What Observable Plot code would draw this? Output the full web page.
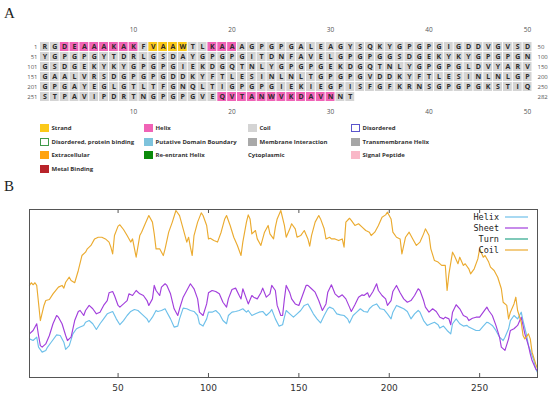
<!DOCTYPE html>
<html><head><meta charset="utf-8">
<script src="https://cdn.jsdelivr.net/npm/d3@7"></script>
<script src="https://cdn.jsdelivr.net/npm/@observablehq/plot@0.6"></script>
<style>
body{margin:0;background:#fff;}
#wrap{position:relative;width:550px;height:395px;overflow:hidden;font-family:"Open Sans",sans-serif;}
.pl{position:absolute;font-family:"Liberation Serif",serif;font-size:15px;color:#222;line-height:15px;}
.leg{position:absolute;font-size:6px;font-weight:bold;color:#333;white-space:nowrap;line-height:8px;}
.sw{position:absolute;width:8.5px;height:8px;box-sizing:border-box;}
.layer{position:absolute;left:0;}
</style></head>
<body><div id="wrap"></div>
<script>
// ---------- Panel A data ----------
const rowStarts = [1, 51, 101, 151, 201, 251];
const seqRows = [
  "RGDEAAAKAKFVAAWTLKAAAGPGPGALEAGYSQKYGPGPGIGDDVGVSD",
  "YGPGPGYTDRLGSDAYGPGPGITDNFAVELGPGPGGSDGEKYKYGPGPGN",
  "GSDGEKYKYGPGPGIEKDGQTNLYGPGPGEKDGQTNLYGPGPGLDVYARV",
  "GAALVRSDGPGPGDDKYFTLESINLNLTGPGPGVDDKYFTLESINLNLGP",
  "GPGAYEGLGTLTFGNQLTIGPGPGIEKIEGPISFGFKRNSGPGPGKSTIQ",
  "STPAVIPDRTNGPGPGVEQVTANWVKDAVNNT"
];
const seqLength = 282;
const helixRanges = [[3, 10], [18, 20], [269, 280]];
const strandRanges = [[12, 15]];
const rulerTicks = [10, 20, 30, 40, 50];
const featureNames = ["Coil", "Helix", "Strand"];
const featureColors = ["#d4d4d4", "#f063b6", "#fbc91a"];

const legendNames = ["Strand", "Helix", "Coil", "Disordered",
  "Disordered, protein binding", "Putative Domain Boundary", "Membrane Interaction", "Transmembrane Helix",
  "Extracellular", "Re-entrant Helix", "Cytoplasmic", "Signal Peptide",
  "Metal Binding"];
const legendFills = ["#fbc91a", "#f063b6", "#d4d4d4", "#ffffff",
  "#ffffff", "#7ec3dc", "#a9a9a9", "#a6a6a6",
  "#ffa30f", "#0a8a0a", null, "#f9b8c8",
  "#b8232a"];
const legendBorders = [null, null, null, "#5b55cc",
  "#3f9a4a", null, null, null,
  null, null, null, null,
  null];

// ---------- Panel B data (residue, score) ----------
const xTicks = [50, 100, 150, 200, 250];
const seriesNames = ["Helix", "Sheet", "Turn", "Coil"];
const seriesColors = ["#6ec0ea", "#a23fdc", "#2aa58a", "#ebab30"];

const helixPts = [[1,23.0],[3,22.0],[5,24.0],[6,18.1],[8,15.1],[10,16.1],[11,18.1],[13,21.0],[16,25.4],[18,25.0],[20,21.0],[21,16.7],[23,19.0],[25,26.0],[27,29.0],[29,30.0],[31,31.0],[32,32.9],[34,33.9],[36,32.0],[38,28.6],[40,32.0],[42,34.9],[44,37.9],[47,39.3],[49,34.9],[51,31.4],[53,33.9],[55,36.9],[57,39.3],[59,40.5],[61,39.9],[63,37.9],[66,34.9],[67,32.9],[69,35.9],[71,39.9],[72,39.3],[74,39.9],[76,40.9],[77,38.9],[79,34.9],[81,30.0],[83,30.6],[84,34.9],[86,41.3],[88,40.9],[90,39.9],[92,39.3],[94,36.9],[95,32.0],[97,30.6],[99,34.9],[100,38.9],[102,38.9],[104,39.9],[106,37.9],[108,33.9],[110,32.0],[111,36.9],[113,38.9],[115,39.3],[117,39.9],[119,40.9],[121,38.9],[122,39.9],[124,36.9],[126,37.9],[128,38.9],[130,39.3],[132,36.9],[134,38.9],[135,40.5],[137,34.9],[139,30.6],[141,31.4],[142,35.9],[143,39.9],[145,37.9],[147,35.9],[149,37.9],[151,39.9],[153,42.9],[155,43.8],[156,41.9],[158,37.9],[160,34.9],[162,32.5],[164,36.9],[166,40.9],[167,41.9],[169,40.9],[171,37.9],[173,37.3],[175,36.9],[177,34.9],[178,32.5],[180,36.9],[182,38.9],[184,40.9],[186,39.3],[188,38.9],[189,40.9],[191,42.9],[193,43.8],[195,40.9],[197,40.5],[199,37.9],[201,34.9],[202,38.9],[204,42.9],[206,41.9],[208,40.9],[210,39.3],[212,34.9],[214,37.9],[216,39.9],[217,38.9],[219,33.9],[221,31.0],[223,32.0],[225,32.9],[227,31.4],[228,29.4],[230,30.6],[232,28.0],[234,26.0],[235,32.0],[237,34.9],[239,32.0],[241,30.6],[243,31.0],[244,30.0],[246,29.0],[248,28.0],[250,28.0],[252,30.6],[254,32.9],[255,32.5],[257,31.0],[259,28.0],[261,24.0],[263,22.0],[264,24.0],[266,29.0],[267,33.9],[269,36.9],[271,34.9],[273,38.9],[274,33.9],[276,25.0],[277,19.0],[278,16.1],[280,10.1],[281,5.2],[282,3.0]];

const sheetPts = [[1,26.0],[3,28.0],[5,32.0],[6,25.0],[7,19.0],[8,18.1],[10,20.0],[12,25.0],[14,32.0],[16,36.9],[17,35.9],[19,32.0],[21,25.0],[22,22.0],[24,24.0],[26,33.9],[28,39.3],[29,39.9],[31,36.9],[32,39.9],[34,42.9],[36,40.9],[38,37.9],[40,38.9],[42,42.9],[44,45.8],[45,50.4],[47,51.2],[48,48.8],[50,42.9],[51,41.9],[53,43.8],[55,45.8],[56,49.8],[58,48.8],[60,51.8],[62,49.8],[64,48.8],[66,45.8],[67,42.9],[69,46.8],[70,54.8],[71,51.8],[73,48.8],[74,53.8],[76,55.8],[77,54.8],[79,49.8],[81,40.9],[83,36.9],[84,40.9],[86,47.8],[88,51.8],[90,55.8],[92,52.8],[94,46.8],[95,38.9],[97,36.9],[99,43.8],[100,50.4],[102,51.8],[104,51.2],[106,49.8],[108,44.8],[110,41.9],[111,46.8],[113,52.4],[115,53.2],[117,48.8],[118,46.8],[119,52.8],[121,46.8],[122,43.8],[124,48.8],[125,47.8],[127,46.8],[129,50.4],[130,53.2],[132,47.8],[134,49.8],[135,54.8],[137,51.8],[138,42.9],[140,36.9],[141,36.9],[142,46.8],[143,54.8],[145,50.4],[146,46.8],[148,43.8],[150,42.9],[152,48.8],[154,54.8],[155,54.8],[157,52.8],[159,50.8],[161,45.8],[163,39.9],[165,43.8],[166,50.8],[168,55.2],[170,49.8],[172,47.8],[174,49.2],[176,46.8],[178,41.9],[179,39.3],[181,43.3],[183,47.8],[185,49.2],[186,48.8],[188,50.4],[189,47.8],[191,51.2],[193,55.8],[194,51.8],[196,48.8],[198,46.8],[199,42.9],[201,45.8],[202,51.2],[204,54.8],[206,50.4],[208,46.8],[210,44.8],[212,45.8],[214,48.8],[216,52.8],[217,51.8],[219,45.8],[220,41.9],[222,38.9],[224,40.9],[226,39.3],[228,35.9],[230,34.9],[231,35.9],[233,34.9],[234,31.4],[235,38.9],[237,43.3],[239,40.9],[241,36.9],[243,35.9],[244,33.9],[246,35.3],[248,35.9],[250,35.9],[252,38.9],[254,41.9],[255,39.9],[257,36.9],[259,31.0],[261,24.0],[262,18.1],[264,16.1],[266,23.0],[267,28.0],[269,29.0],[271,31.0],[273,35.9],[274,31.0],[275,26.0],[277,19.0],[278,14.1],[279,10.1],[281,5.2],[282,4.0]];

const coilPts = [[1,54.8],[2,56.4],[3,55.2],[4,56.4],[5,54.8],[7,33.9],[9,42.9],[10,45.8],[12,46.4],[14,49.8],[17,53.8],[19,54.8],[20,53.2],[21,56.7],[23,59.7],[24,57.7],[26,56.4],[28,63.7],[30,72.6],[32,74.6],[33,76.6],[35,78.6],[37,82.5],[39,83.5],[41,83.5],[43,82.5],[45,80.6],[46,77.6],[47,73.6],[48,84.5],[50,90.1],[51,90.9],[53,88.1],[55,84.5],[57,80.6],[58,82.5],[60,71.6],[62,84.5],[63,86.5],[65,91.5],[67,96.4],[69,92.5],[70,85.5],[71,76.6],[73,76.6],[75,72.6],[76,76.6],[78,86.5],[80,92.5],[82,99.4],[84,96.4],[86,88.5],[88,80.6],[89,83.5],[90,77.6],[91,72.6],[92,84.5],[94,92.5],[96,98.0],[97,96.4],[99,90.5],[100,82.5],[101,82.9],[103,81.5],[105,80.6],[107,86.5],[109,94.4],[110,96.4],[112,90.5],[114,83.5],[116,78.6],[118,72.6],[119,80.6],[121,92.5],[122,96.8],[123,94.4],[124,85.5],[126,87.5],[127,82.5],[129,78.6],[131,86.5],[133,90.5],[134,85.5],[136,82.5],[137,89.5],[138,94.4],[140,99.4],[142,90.5],[143,83.5],[145,88.5],[146,91.5],[148,88.5],[149,83.5],[151,84.5],[153,87.5],[155,82.5],[156,78.2],[157,84.5],[159,92.5],[161,96.4],[162,94.4],[164,88.5],[165,82.5],[167,83.5],[168,82.5],[170,82.5],[172,81.5],[174,82.5],[175,77.6],[176,92.5],[178,94.8],[179,93.5],[181,90.5],[183,91.5],[185,89.5],[187,87.5],[189,86.5],[190,84.5],[192,86.5],[194,90.5],[196,95.4],[198,96.8],[199,98.4],[201,94.4],[202,86.5],[204,83.5],[206,82.5],[207,73.6],[209,83.5],[211,86.5],[213,82.5],[215,78.6],[217,80.6],[219,85.5],[220,88.5],[222,84.5],[223,76.6],[225,69.6],[227,68.7],[229,66.7],[231,66.7],[232,51.8],[233,61.7],[235,74.6],[236,72.6],[238,67.7],[239,71.6],[241,66.7],[242,67.7],[244,64.7],[245,61.7],[247,64.7],[249,70.6],[250,76.6],[252,71.6],[253,72.6],[255,68.7],[256,65.7],[258,63.7],[260,59.7],[262,52.8],[263,44.8],[265,42.9],[266,34.9],[267,38.9],[269,43.8],[270,47.8],[271,39.9],[273,32.9],[274,25.0],[275,23.0],[277,26.0],[278,23.0],[279,15.1],[281,8.1],[282,5.2]];

// ---------- build ----------
const wrap = document.getElementById("wrap");

const residues = [];
seqRows.forEach((s, r) => {
  [...s].forEach((aa, j) => {
    const pos = rowStarts[r] + j;
    const inR = rs => rs.some(([a, b]) => pos >= a && pos <= b);
    const type = inR(helixRanges) ? "Helix" : inR(strandRanges) ? "Strand" : "Coil";
    residues.push({pos, row: rowStarts[r], col: j + 1, aa, type});
  });
});

const chartA = Plot.plot({
  width: 550, height: 120,
  marginLeft: 39.5, marginRight: 18, marginTop: 39, marginBottom: 16.3,
  style: {fontFamily: '"Open Sans", sans-serif', background: "transparent", overflow: "visible"},
  x: {type: "band", domain: d3.range(1, 51), paddingInner: 0.1, paddingOuter: 0.05},
  y: {type: "band", domain: rowStarts, paddingInner: 0.1, paddingOuter: 0.05},
  color: {domain: featureNames, range: featureColors},
  marks: [
    Plot.cell(residues, {x: "col", y: "row", fill: "type"}),
    Plot.text(residues, {x: "col", y: "row", text: "aa", fontSize: 7, fontWeight: "bold", fill: "#2b2b2b"}),
    Plot.axisX({anchor: "top", ticks: rulerTicks, tickSize: 0, tickPadding: 7.5, fontSize: 6.5, fill: "#555", label: null}),
    Plot.axisX({anchor: "bottom", ticks: rulerTicks, tickSize: 0, tickPadding: 5.5, fontSize: 6.5, fill: "#555", label: null}),
    Plot.axisY({anchor: "left", tickSize: 0, tickPadding: 2.5, fontSize: 6, fill: "#555", label: null}),
    Plot.axisY({anchor: "right", tickSize: 0, tickPadding: 5, fontSize: 6, fill: "#555", label: null,
      tickFormat: d => Math.min(d + 49, seqLength)})
  ]
});
chartA.classList.add("layer");
chartA.style.top = "0px";
wrap.appendChild(chartA);

// panel labels
for (const [t, x, y] of [["A", 4, 6], ["B", 4, 179]]) {
  const d = document.createElement("div");
  d.className = "pl"; d.textContent = t;
  d.style.left = x + "px"; d.style.top = y + "px";
  wrap.appendChild(d);
}

// legend A
const colX = [40, 144, 248, 351];
const rowY = [128, 141.5, 155, 168.5];
legendNames.forEach((name, i) => {
  const c = i % 4, r = Math.floor(i / 4);
  const x = colX[c], y = rowY[r];
  let tx = x;
  if (legendFills[i] !== null) {
    const s = document.createElement("div");
    s.className = "sw";
    s.style.left = x + "px"; s.style.top = (y - 4) + "px";
    s.style.background = legendFills[i];
    if (legendBorders[i]) s.style.border = "1px solid " + legendBorders[i];
    wrap.appendChild(s);
    tx = x + 11.5;
  }
  const t = document.createElement("div");
  t.className = "leg"; t.textContent = name;
  t.style.left = tx + "px"; t.style.top = (y - 4) + "px";
  wrap.appendChild(t);
});

// Panel B
const seriesPts = [helixPts, sheetPts, null, coilPts];
const lineMarks = [];
seriesPts.forEach((pts, i) => {
  if (pts) lineMarks.push(Plot.line(pts, {x: d => d[0], y: d => d[1], stroke: seriesColors[i], strokeWidth: 1.15}));
});
const chartB = Plot.plot({
  width: 550, height: 195,
  marginTop: 9, marginBottom: 18, marginLeft: 29, marginRight: 13,
  style: {fontFamily: '"DejaVu Sans", sans-serif', background: "transparent", overflow: "visible"},
  x: {domain: [1, seqLength]},
  y: {domain: [0, 100], axis: null},
  marks: [
    ...lineMarks,
    Plot.frame({stroke: "#555"}),
    Plot.ruleX(xTicks, {insetTop: 164, stroke: "#555"}),
    Plot.ruleX(xTicks, {insetBottom: 164, stroke: "#555"}),
    Plot.axisX({ticks: xTicks, tickSize: 0, tickPadding: 7, fontSize: 9, fill: "#333", label: null})
  ]
});
chartB.classList.add("layer");
chartB.style.top = "200px";
wrap.appendChild(chartB);

// legend B (key inside plot)
const key = d3.select(wrap).append("svg")
  .attr("width", 70).attr("height", 48)
  .style("position", "absolute").style("left", "470px").style("top", "210px");
seriesNames.forEach((n, i) => {
  const y = 7 + i * 11;
  key.append("text").attr("x", 29).attr("y", y).attr("text-anchor", "end")
    .attr("dominant-baseline", "central")
    .style("font-family", '"DejaVu Sans Mono", monospace').style("font-size", "8.5px").style("fill", "#222")
    .text(n);
  key.append("line").attr("x1", 35).attr("x2", 58).attr("y1", y).attr("y2", y)
    .attr("stroke", seriesColors[i]).attr("stroke-width", 1.2);
});
</script>
</body></html>
